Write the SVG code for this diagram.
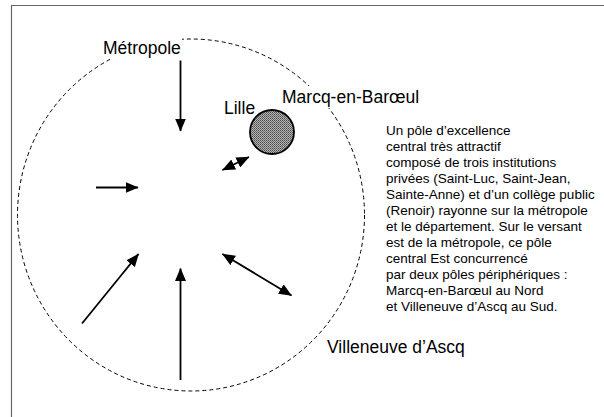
<svg xmlns="http://www.w3.org/2000/svg" width="604" height="417" viewBox="0 0 604 417">
<style>
text{font-family:"Liberation Sans",Arial,Helvetica,sans-serif;fill:#000}
.lbl{font-size:17.5px}
.body{font-size:13.5px}
.bg{fill:#fff;stroke:none}
.arr{stroke:#000;stroke-width:1.8;fill:none;marker-end:url(#ah)}
.dbl{marker-start:url(#ah)}
</style>
<defs>
<marker id="ah" markerUnits="userSpaceOnUse" markerWidth="13" markerHeight="11" refX="12.5" refY="5.5" orient="auto-start-reverse" viewBox="0 0 13 11">
<path d="M0,0 L13,5.5 L0,11 Z" fill="#000"/>
</marker>
<pattern id="dots" patternUnits="userSpaceOnUse" width="2" height="2">
<rect width="2" height="2" fill="#b4b4b4"/>
<rect width="1" height="1" fill="#4a4a4a"/>
<rect x="1" y="1" width="1" height="1" fill="#6a6a6a"/>
</pattern>
</defs>
<rect width="604" height="417" fill="#fff"/>
<path d="M11.5,417 L11.5,5.5 L604,5.5" fill="none" stroke="#666" stroke-width="1.2"/>
<g id="metropole">
<ellipse cx="191" cy="215" rx="173.5" ry="176" fill="none" stroke="#000" stroke-width="1" stroke-dasharray="4 3"/>
<rect class="bg" x="100" y="38" width="82" height="21"/>
<text class="lbl" x="103" y="54">Métropole</text>
</g>
<g id="marcq">
<rect class="bg" x="280" y="86" width="142" height="22"/>
<text class="lbl" x="282" y="103">Marcq-en-Barœul</text>
</g>
<g id="lille">
<circle cx="272" cy="132" r="22" fill="url(#dots)" stroke="#000" stroke-width="1.8"/>
<text class="lbl" x="224" y="114">Lille</text>
</g>
<g id="villeneuve">
<text class="lbl" x="327" y="353">Villeneuve d’Ascq</text>
</g>
<g id="description">
<text class="body">
<tspan x="386" y="135">Un pôle d’excellence</tspan>
<tspan x="386" y="151">central très attractif</tspan>
<tspan x="386" y="167">composé de trois institutions</tspan>
<tspan x="386" y="183">privées (Saint-Luc, Saint-Jean,</tspan>
<tspan x="386" y="199">Sainte-Anne) et d’un collège public</tspan>
<tspan x="386" y="215">(Renoir) rayonne sur la métropole</tspan>
<tspan x="386" y="231">et le département. Sur le versant</tspan>
<tspan x="386" y="247">est de la métropole, ce pôle</tspan>
<tspan x="386" y="263">central Est concurrencé</tspan>
<tspan x="386" y="279">par deux pôles périphériques :</tspan>
<tspan x="386" y="295">Marcq-en-Barœul au Nord</tspan>
<tspan x="386" y="311">et Villeneuve d’Ascq au Sud.</tspan>
</text>
</g>
<g id="connectors">
<line class="arr" x1="180.5" y1="60.5" x2="180.5" y2="131"/>
<line class="arr" x1="96" y1="187.5" x2="138" y2="187.5"/>
<line class="arr" x1="82" y1="323.5" x2="138.5" y2="254"/>
<line class="arr" x1="180.5" y1="380" x2="180.5" y2="268.5"/>
<line class="arr dbl" x1="222.5" y1="254" x2="291.5" y2="295.5"/>
<line class="arr dbl" x1="222.5" y1="170" x2="249" y2="157"/>
</g>
</svg>
